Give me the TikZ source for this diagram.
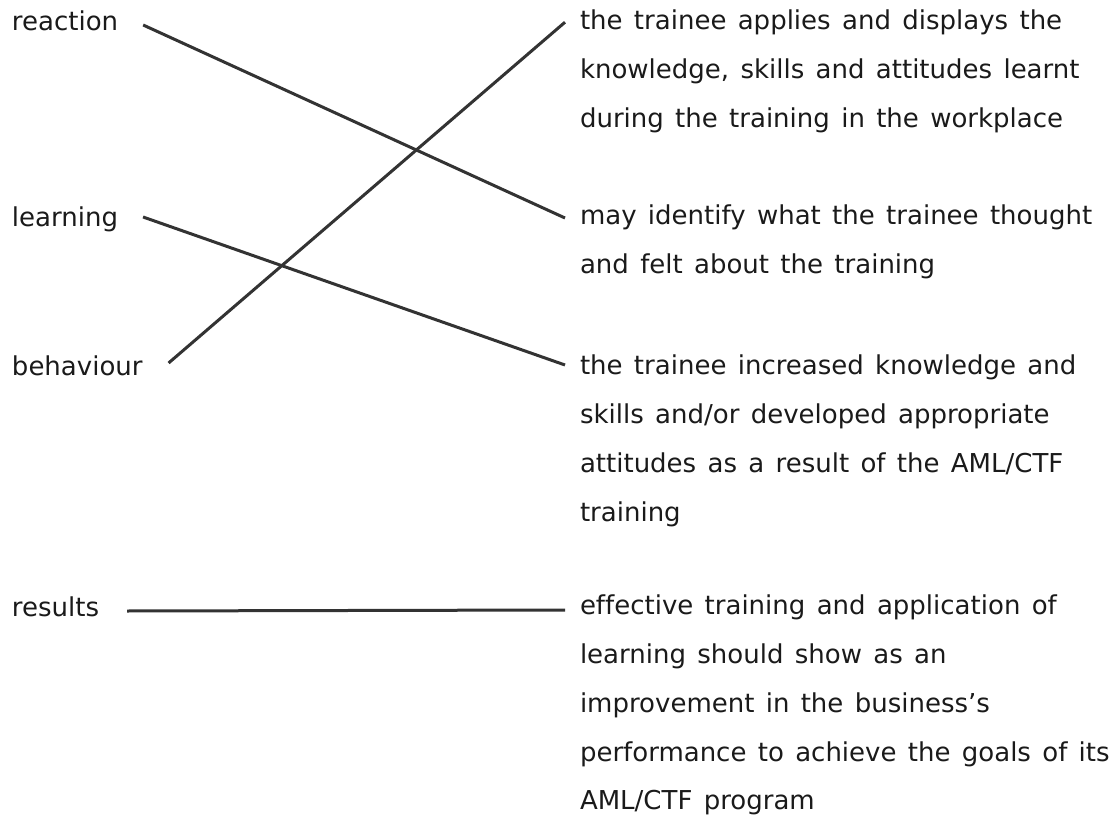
\documentclass[tikz,border=0pt]{standalone}
\usepackage{fontspec}
\setmainfont{DejaVu Sans}[Ligatures=NoCommon,WordSpace={1.37,0,0}]
\usetikzlibrary{calc}
\definecolor{linec}{HTML}{333333}
\definecolor{textc}{HTML}{1A1A1A}
\newcommand{\labfont}{\fontsize{26}{48.7}\selectfont}
\begin{document}
\begin{tikzpicture}[x=1pt,y=-1pt,
  every node/.style={inner sep=0pt,outer sep=0pt,text=textc},
  lbl/.style={anchor=base west,font=\labfont},
  desc/.style={anchor=north west,align=left,font=\labfont},
  link/.style={draw=linec,line width=3pt}]
\useasboundingbox (0,0) rectangle (1116,818);
% left labels
\node[lbl] (reaction) at (12,31) {reaction};
\node[lbl] (learning) at (12,227) {learning};
\node[lbl] (behaviour) at (12,375) {behaviour};
\node[lbl] (results) at (12,616) {results};
% right descriptions
\node[desc] (applies) at (580,10.2) {the trainee applies and displays the\\knowledge, skills and attitudes learnt\\during the training in the workplace};
\node[desc] (identify) at (580,205.2) {may identify what the trainee thought\\and felt about the training};
\node[desc] (increased) at (580,355.2) {the trainee increased knowledge and\\skills and/or developed appropriate\\attitudes as a result of the AML/CTF\\training};
\node[desc] (effective) at (580,595.2) {effective training and application of\\learning should show as an\\improvement in the business’s\\performance to achieve the goals of its\\AML/CTF program};
% connectors
\draw[link] ([shift={(25,-6)}]reaction.base east) -- ([shift={(-15,12.8)}]identify.north west);
\draw[link] ([shift={(25,-10)}]learning.base east) -- ([shift={(-15,9.8)}]increased.north west);
\draw[link] ([shift={(26,-12)}]behaviour.base east) -- ([shift={(-15,12)}]applies.north west);
\draw[link] ([shift={(28,-5)}]results.base east) -- ([shift={(-15,14.8)}]effective.north west);
\end{tikzpicture}
\end{document}
